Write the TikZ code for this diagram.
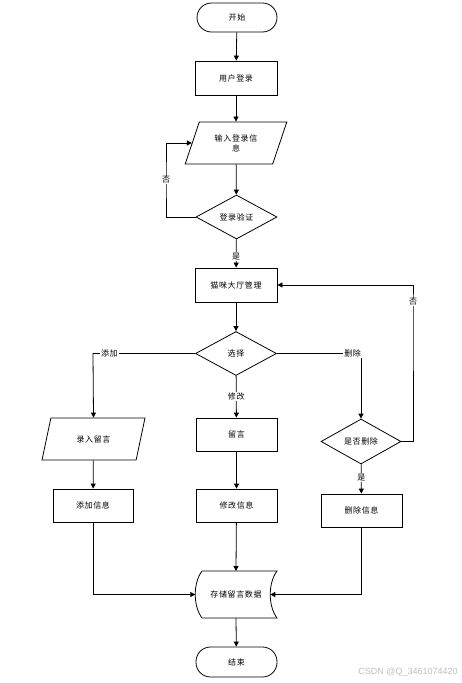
\documentclass[tikz,border=0pt]{standalone}
\usepackage{fontspec}
\setmainfont{Liberation Sans}
\newfontfamily\cjk[LetterSpace=8]{Noto Sans CJK SC}
\usetikzlibrary{shapes.geometric,arrows.meta}
\begin{document}
\begin{tikzpicture}[x=1pt,y=-1pt,
  line width=0.8pt,
  every node/.style={font=\cjk\fontsize{8}{10}\selectfont, inner sep=0pt},
  proc/.style={draw, rectangle, minimum width=82pt, minimum height=34pt},
  term/.style={draw, rectangle, rounded corners=14.5pt, minimum width=80pt, minimum height=29pt},
  io/.style={draw, trapezium, trapezium left angle=64.5, trapezium right angle=115.5, trapezium stretches=true, minimum width=102pt, minimum height=42pt, align=center},
  dec/.style={draw, diamond, aspect=1.84, minimum width=81pt, minimum height=44pt},
  lbl/.style={fill=white, inner sep=1pt},
  arr/.style={-{Triangle[length=5pt,width=5pt]}}
]
\useasboundingbox (0,0) rectangle (461,683);
\fill[white] (0,0) rectangle (461,683);

\node[term] (start) at (237,17.5) {开始};
\node[proc] (login) at (236,78) {用户登录};
\node[io] (input) at (236,143) {输入登录信\\息};
\node[dec] (verify) at (236.5,217) {登录验证};
\node[proc] (hall) at (236,285) {猫咪大厅管理};
\node[dec] (choose) at (236,353.5) {选择};
\node[io, minimum width=103pt] (enter) at (93.5,439) {录入留言};
\node[proc, minimum width=81pt, minimum height=33pt] (msg) at (236.5,434.5) {留言};
\node[dec, minimum width=80pt, minimum height=45pt] (isdel) at (361,441.5) {是否删除};
\node[proc, minimum width=80pt, minimum height=33pt] (addinfo) at (93,505.5) {添加信息};
\node[proc, minimum width=81pt, minimum height=33pt] (modinfo) at (236.5,505.5) {修改信息};
\node[proc, minimum width=81pt, minimum height=33pt] (delinfo) at (361.5,510.5) {删除信息};
% stored data
\node[minimum width=82pt, minimum height=47pt] (store) at (236,594.5) {存储留言数据};
\draw (202,571) -- (277,571) .. controls (268,583) and (268,606) .. (277,618) -- (202,618) .. controls (193,606) and (193,583) .. (202,571);
\coordinate (storeL) at (195.3,594.5);
\coordinate (storeR) at (270.3,594.5);
\node[term, minimum width=81pt, minimum height=30pt] (end) at (236.5,662) {结束};

% connectors
\draw[arr] (start) -- (login);
\draw[arr] (login) -- (input);
\draw[arr] (input) -- (verify);
\draw[arr] (verify.west) -| (166,180) node[lbl] {否} |- (input.west);
\draw[arr] (verify) -- node[lbl, pos=0.6] {是} (hall);
\draw[arr] (hall) -- (choose);
\draw[arr] (choose.west) -- node[lbl, pos=0.84] {添加} (93,353.5) -- (enter.north);
\draw[arr] (choose.east) -- node[lbl, pos=0.9] {删除} (361,353.5) -- (isdel.north);
\draw[arr] (choose) -- node[lbl, pos=0.5] {修改} (msg);
\draw[arr] (isdel.east) -| (413,302) node[lbl] {否} |- (hall.east);
\draw[arr] (isdel) -- node[lbl, pos=0.45] {是} (delinfo);
\draw[arr] (enter) -- (addinfo);
\draw[arr] (msg) -- (modinfo);
\draw[arr] (addinfo.south) |- (storeL);
\draw[arr] (modinfo) -- (236,571);
\draw[arr] (delinfo.south) |- (storeR);
\draw[arr] (236,618) -- (end);

\node[anchor=east, font=\fontsize{9}{10}\selectfont, text=black!25] (wm) at (458,672) {CSDN @Q\_3461074420};
\end{tikzpicture}
\end{document}
